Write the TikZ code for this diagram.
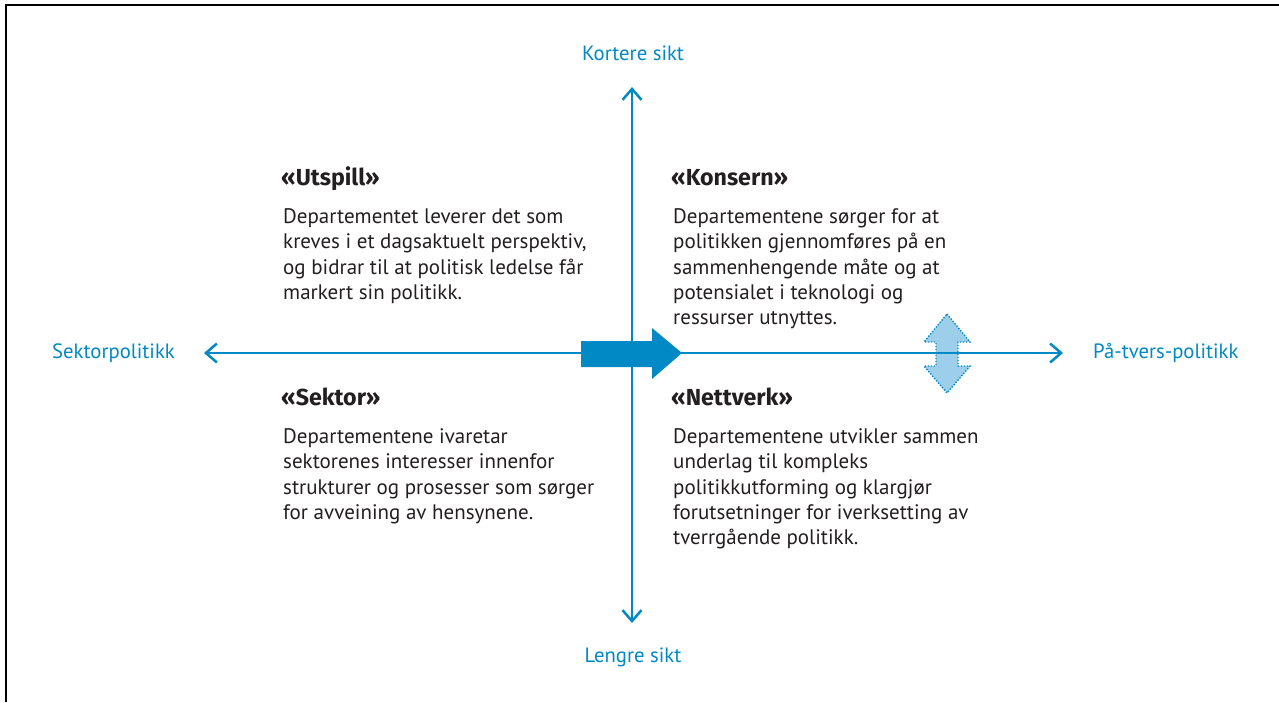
\documentclass[tikz,border=0pt]{standalone}
\usepackage{fontspec}
\setmainfont{PT Sans}
\newfontfamily\titlefont{Fira Sans}
\usetikzlibrary{arrows.meta}
\definecolor{axblue}{RGB}{0,137,196}
\definecolor{lightblue}{RGB}{157,206,234}
\definecolor{txt}{RGB}{35,31,32}
\tikzset{
  axis/.style={draw=axblue, line width=2.5pt, {Straight Barb[length=11pt,width=19pt]}-{Straight Barb[length=11pt,width=19pt]}},
  lbl/.style={text=axblue, font=\fontsize{20.7}{24}\selectfont, inner sep=0pt},
  ttl/.style={text=txt, font=\titlefont\fontsize{23.2}{26}\selectfont\bfseries, inner sep=0pt, anchor=base west},
  bodytxt/.style={text=txt, inner sep=0pt, anchor=base west},
}
\newcommand{\bodypar}[1]{\parbox[t]{360pt}{\fontsize{21}{25.3}\selectfont\raggedright #1}}
\begin{document}
\begin{tikzpicture}[x=1pt,y=-1pt]
\useasboundingbox (0,0) rectangle (1279,702);
\fill[white] (0,0) rectangle (1279,702);
% frame (top and left only)
\draw[black, line width=2.2pt] (6,702) -- (6,5) -- (1279,5);

% axis labels
\node[lbl] (top) at (633,53) {Kortere sikt};
\node[lbl] (bot) at (633,657) {Lengre sikt};
\node[lbl, anchor=west] (left) at (52,353) {Sektorpolitikk};
\node[lbl, anchor=west] (right) at (1093,353) {På-tvers-politikk};

\coordinate (ytop) at (632,87);
\coordinate (ybot) at (632,623);
\coordinate (xl) at (204,353);
\coordinate (xr) at (1063,353);

% double arrow
\filldraw[fill=lightblue, draw=axblue, line width=1.4pt, dash pattern=on 1.4pt off 1.6pt]
  (947,314) -- (970,342) -- (958,342) -- (958,366) -- (970,366) -- (947,393)
  -- (924,366) -- (936,366) -- (936,342) -- (924,342) -- cycle;

% axes
\draw[axis] (ybot) -- (ytop);
\draw[axis] (xl) -- (xr);

% big arrow
\fill[axblue] (581,341) -- (652,341) -- (652,328) -- (682,353) -- (652,379) -- (652,367) -- (581,367) -- cycle;

% quadrant texts
\node[ttl] (t1) at (281,185.5) {«Utspill»};
\node[bodytxt] (b1) at (283,223.5) {\bodypar{Departementet leverer det som\\kreves i et dagsaktuelt perspektiv,\\og bidrar til at politisk ledelse får\\markert sin politikk.}};

\node[ttl] (t2) at (671,185.5) {«Konsern»};
\node[bodytxt] (b2) at (673,223.5) {\bodypar{Departementene sørger for at\\politikken gjennomføres på en\\sammenhengende måte og at\\potensialet i teknologi og\\ressurser utnyttes.}};

\node[ttl] (t3) at (281,405.5) {«Sektor»};
\node[bodytxt] (b3) at (283,443.5) {\bodypar{Departementene ivaretar\\sektorenes interesser innenfor\\strukturer og prosesser som sørger\\for avveining av hensynene.}};

\node[ttl] (t4) at (671,405.5) {«Nettverk»};
\node[bodytxt] (b4) at (673,443.5) {\bodypar{Departementene utvikler sammen\\underlag til kompleks\\politikkutforming og klargjør\\forutsetninger for iverksetting av\\tverrgående politikk.}};
\end{tikzpicture}
\end{document}
